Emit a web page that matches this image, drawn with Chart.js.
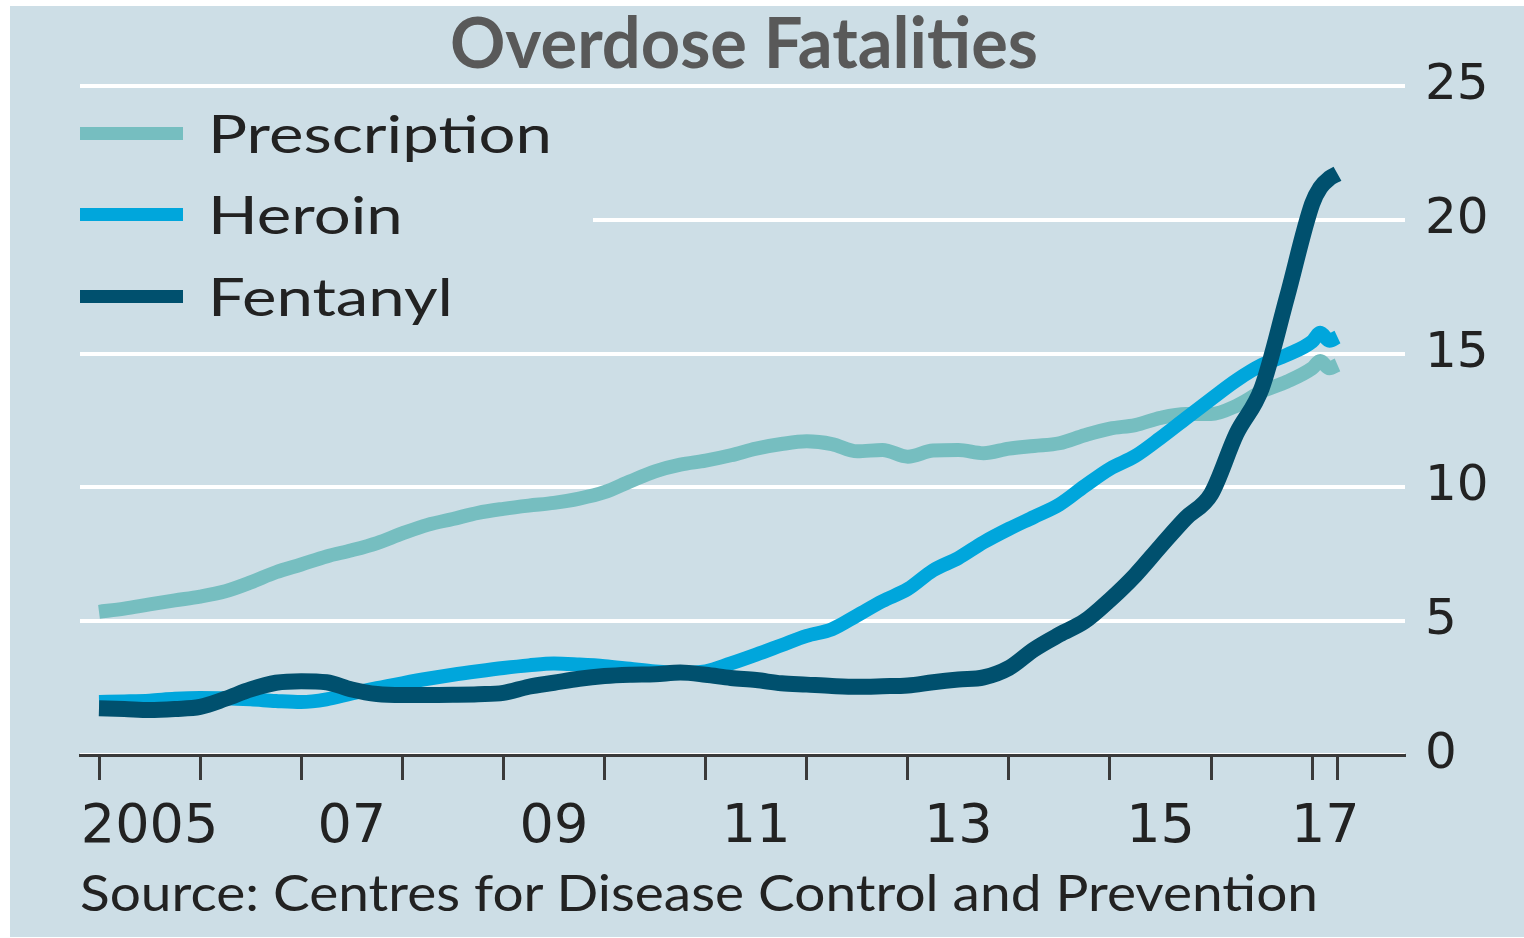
<!DOCTYPE html>
<html>
<head>
<meta charset="utf-8">
<script src="https://cdn.jsdelivr.net/npm/chart.js@4.4.1/dist/chart.umd.min.js"></script>
<style>
html,body{margin:0;padding:0;background:#fff;width:1524px;height:938px;overflow:hidden;}
#panel{position:absolute;left:10px;top:6px;width:1514px;height:931px;background:#cddee6;}
#chart{position:absolute;left:0;top:0;}
.txt{position:absolute;white-space:nowrap;line-height:1;transform-origin:0 0;}
#title{font-family:Lato,"Open Sans",sans-serif;font-weight:700;color:#595959;font-size:70px;top:0px;}
#legend{position:absolute;left:70px;top:94px;width:513px;height:236px;background:#cddee6;}
.sw{position:absolute;left:0;width:103px;height:13px;}
.lbl{font-family:Lato,"Open Sans",sans-serif;font-size:53px;color:#222;left:128px;}
#source{font-family:Lato,"Open Sans",sans-serif;font-size:50px;color:#222;left:70px;top:861px;}
</style>
</head>
<body>
<div id="panel">
  <canvas id="chart" width="1514" height="931"></canvas>
  <div id="title" class="txt">Overdose Fatalities</div>
  <div id="legend"></div>
  <div id="source" class="txt">Source: Centres for Disease Control and Prevention</div>
</div>
<script>
// ---- data ----
const periods = [
  2005.00, 2005.25, 2005.50, 2005.75,
  2006.00, 2006.25, 2006.50, 2006.75,
  2007.00, 2007.25, 2007.50, 2007.75,
  2008.00, 2008.25, 2008.50, 2008.75,
  2009.00, 2009.25, 2009.50, 2009.75,
  2010.00, 2010.25, 2010.50, 2010.75,
  2011.00, 2011.25, 2011.50, 2011.75,
  2012.00, 2012.25, 2012.50, 2012.75,
  2013.00, 2013.25, 2013.50, 2013.75,
  2014.00, 2014.25, 2014.50, 2014.75,
  2015.00, 2015.25, 2015.50, 2015.75,
  2016.00, 2016.25, 2016.50, 2016.75,
  2017.00, 2017.08, 2017.17, 2017.25
];
const prescription = [
  5.35, 5.47, 5.63, 5.78,
  5.92, 6.12, 6.45, 6.83,
  7.12, 7.42, 7.65, 7.92,
  8.28, 8.60, 8.82, 9.05,
  9.20, 9.32, 9.42, 9.58,
  9.82, 10.22, 10.60, 10.85,
  11.00, 11.20, 11.45, 11.62,
  11.72, 11.62, 11.35, 11.40,
  11.15, 11.38, 11.40, 11.28,
  11.45, 11.55, 11.65, 11.95,
  12.20, 12.33, 12.60, 12.74,
  12.74, 13.05, 13.58, 13.95,
  14.45, 14.72, 14.45, 14.58
];
const heroin = [
  1.98, 2.00, 2.03, 2.10,
  2.13, 2.12, 2.08, 2.02,
  1.98, 2.08, 2.30, 2.50,
  2.68, 2.85, 3.00, 3.13,
  3.25, 3.35, 3.42, 3.38,
  3.32, 3.22, 3.12, 3.07,
  3.12, 3.42, 3.75, 4.10,
  4.45, 4.70, 5.22, 5.75,
  6.20, 6.90, 7.36, 7.95,
  8.45, 8.90, 9.36, 10.05,
  10.70, 11.17, 11.85, 12.58,
  13.30, 14.00, 14.57, 14.95,
  15.45, 15.78, 15.48, 15.62
];
const fentanyl = [
  1.75, 1.72, 1.68, 1.72,
  1.80, 2.10, 2.45, 2.70,
  2.76, 2.72, 2.45, 2.28,
  2.24, 2.24, 2.25, 2.27,
  2.32, 2.55, 2.70, 2.85,
  2.95, 3.00, 3.02, 3.08,
  3.00, 2.88, 2.80, 2.68,
  2.63, 2.58, 2.55, 2.57,
  2.60, 2.72, 2.82, 2.90,
  3.25, 3.95, 4.50, 5.00,
  5.80, 6.72, 7.80, 8.85,
  9.75, 12.00, 13.70, 17.10,
  20.60, 21.20, 21.55, 21.72
];
const seriesNames = ['Prescription', 'Heroin', 'Fentanyl'];
const seriesColors = ['#76bec0', '#00a6dc', '#00506e'];
const yTicks = [0, 5, 10, 15, 20, 25];
const tickYears = [2005, 2006, 2007, 2008, 2009, 2010, 2011, 2012, 2013, 2014, 2015, 2016, 2017, 2017.25];
const labelYears = [2005.5, 2007.5, 2009.5, 2011.5, 2013.5, 2015.5, 2017.13];
const yearLabels = ['2005', '07', '09', '11', '13', '15', '17'];

// ---- chart ----
const toPoints = vals => vals.map((v, i) => ({x: periods[i], y: v}));
const X_MIN = 2004.812, X_MAX = 2017.918;

new Chart(document.getElementById('chart'), {
  type: 'line',
  data: {
    datasets: [
      {label: seriesNames[0], data: toPoints(prescription), borderColor: seriesColors[0], borderWidth: 14, order: 3},
      {label: seriesNames[1], data: toPoints(heroin), borderColor: seriesColors[1], borderWidth: 14, order: 2},
      {label: seriesNames[2], data: toPoints(fentanyl), borderColor: seriesColors[2], borderWidth: 16, order: 1}
    ]
  },
  options: {
    responsive: false,
    animation: false,
    devicePixelRatio: 1,
    events: [],
    layout: {padding: {left: 70, top: 80, right: 0, bottom: 82}},
    elements: {
      point: {radius: 0},
      line: {cubicInterpolationMode: 'monotone', borderJoinStyle: 'round', borderCapStyle: 'butt', fill: false}
    },
    plugins: {legend: {display: false}, tooltip: {enabled: false}, title: {display: false}},
    scales: {
      x: {
        type: 'linear', position: 'bottom', min: X_MIN, max: X_MAX,
        afterBuildTicks: s => { s.ticks = tickYears.map(v => ({value: v})); },
        ticks: {display: false},
        grid: {display: true, drawOnChartArea: false, drawTicks: true, tickLength: 25, tickColor: '#3a3a3a', tickWidth: 3},
        border: {display: true, color: '#3a3a3a', width: 3},
        afterFit: s => { s.height = 25; }
      },
      x2: {
        type: 'linear', position: 'bottom', min: X_MIN, max: X_MAX,
        afterBuildTicks: s => { s.ticks = labelYears.map(v => ({value: v})); },
        ticks: {
          autoSkip: false, maxRotation: 0, padding: 8, color: '#222', font: {family: 'DejaVu Sans', size: 54},
          callback: (v, i) => yearLabels[i]
        },
        grid: {display: false},
        border: {display: false},
        afterFit: s => { s.height = 75; }
      },
      y: {
        type: 'linear', position: 'right', min: 0, max: 25,
        afterBuildTicks: s => { s.ticks = yTicks.map(v => ({value: v})); },
        ticks: {padding: 20, color: '#222', font: {family: 'DejaVu Sans', size: 50}},
        grid: {color: '#ffffff', lineWidth: 4, drawTicks: false},
        border: {display: false},
        afterFit: s => { s.width = 119; }
      }
    }
  }
});

// ---- legend (HTML) ----
const legend = document.getElementById('legend');
const rowSwatchTop = [27, 108, 190];
const rowTextTop = [6, 87, 169];
const lblEls = [];
seriesNames.forEach((name, i) => {
  const sw = document.createElement('div');
  sw.className = 'sw';
  sw.style.top = rowSwatchTop[i] + 'px';
  sw.style.background = seriesColors[i];
  legend.appendChild(sw);
  const t = document.createElement('div');
  t.className = 'txt lbl';
  t.style.top = rowTextTop[i] + 'px';
  t.textContent = name;
  legend.appendChild(t);
  lblEls.push(t);
});
const lblScale = 344 / lblEls[0].getBoundingClientRect().width;
lblEls.forEach(el => { el.style.transform = 'scaleX(' + lblScale + ')'; });

// ---- title & source fit ----
const title = document.getElementById('title');
const tw = title.getBoundingClientRect().width;
title.style.left = (734 - 294) + 'px';
title.style.transform = 'scaleX(' + (588 / tw) + ')';
const src = document.getElementById('source');
src.style.transform = 'scaleX(' + (1238 / src.getBoundingClientRect().width) + ')';
</script>
</body>
</html>
